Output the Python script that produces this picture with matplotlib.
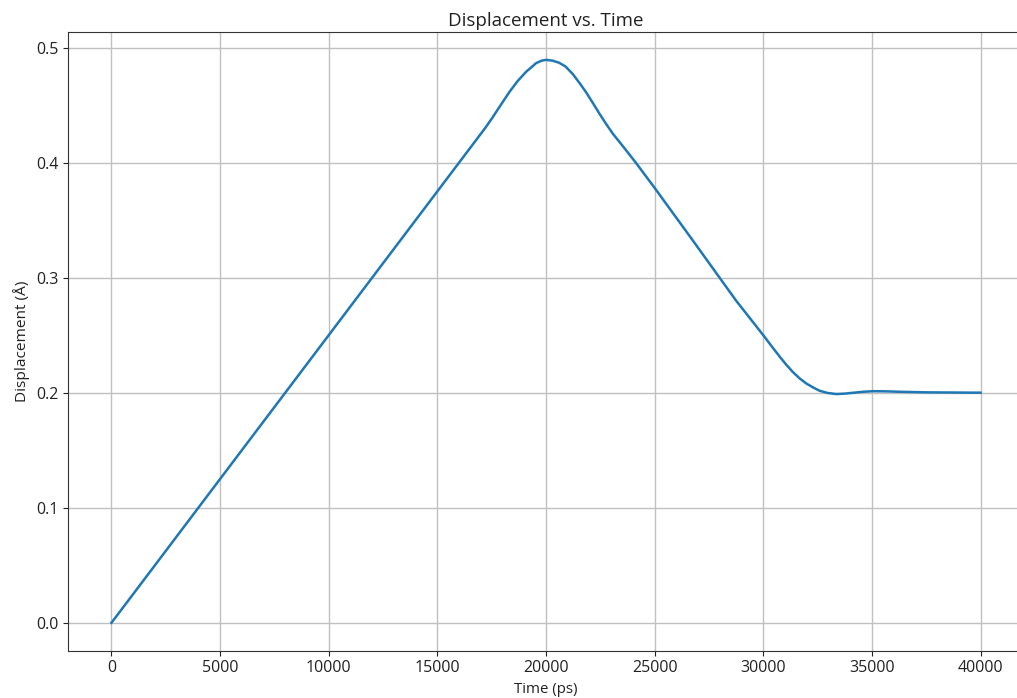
"""Displacement vs time"""
import matplotlib
matplotlib.use('Agg')
import matplotlib.pyplot as plt

plt.rcParams['font.family'] = ['Open Sans', 'DejaVu Sans']

# values
time_ps = [0, 5000, 10000, 15000, 16000, 16800, 17200, 17550, 17950, 18320,
           18700, 19090, 19550, 19800, 20000, 20300, 20600, 20900, 21230, 21550,
           21850, 22150, 22460, 22770, 23080, 23400, 23700, 24150, 25000, 26750,
           28750, 29500, 30060, 30400, 30750, 31050, 31360, 31670, 31980, 32300,
           32590, 32950, 33360, 33750, 34120, 34600, 35040, 35600, 36270, 37500,
           40000]
disp_A = [0.0, 0.125, 0.25, 0.375, 0.400, 0.420, 0.430, 0.4395, 0.451, 0.4615,
          0.471, 0.479, 0.4865, 0.4886, 0.4893, 0.4886, 0.4868, 0.4835, 0.477, 0.469,
          0.461, 0.452, 0.4425, 0.4335, 0.425, 0.4175, 0.4104, 0.3995, 0.378, 0.3325,
          0.280, 0.262, 0.2485, 0.240, 0.2315, 0.2245, 0.218, 0.2125, 0.208, 0.2045,
          0.2017, 0.1998, 0.1988, 0.1992, 0.1999, 0.2008, 0.2013, 0.2012, 0.2008,
          0.2003, 0.2]


def main():
	fig = plt.figure(figsize=(10.17, 6.98), dpi=100)
	# the source image is cropped on the right, so the axes run past the edge
	x0, x1 = 68, 1024
	ax = fig.add_axes([x0/1017, 1-651/698, (x1-x0)/1017, (651-32)/698])

	ax.plot(time_ps, disp_A, color='#1f77b4', linewidth=1.8)
	ax.set_xticks(range(0, 40001, 5000))
	ax.set_yticks([0.0, 0.1, 0.2, 0.3, 0.4, 0.5])
	ax.set_xlim(-2000, 42000)
	ax.set_ylim(-0.0245, 0.5135)
	ax.grid(True, color='#c0c0c0', linewidth=1.0)
	ax.tick_params(labelsize=11.5, colors='#222222', pad=3)
	ax.spines['right'].set_visible(False)
	for side in ('left', 'bottom', 'top'):
		ax.spines[side].set_color('#333333')

	ax.set_title('Displacement vs. Time', fontsize=13.5, color='#222222', pad=4)
	ax.set_xlabel('Time (ps)', fontsize=10.8, labelpad=4, color='#222222')
	ax.set_ylabel('Displacement (Å)', fontsize=11.1, labelpad=5, color='#222222')

	fig.savefig('out.png', dpi=100)
	plt.close(fig)


if __name__ == '__main__':
	main()
